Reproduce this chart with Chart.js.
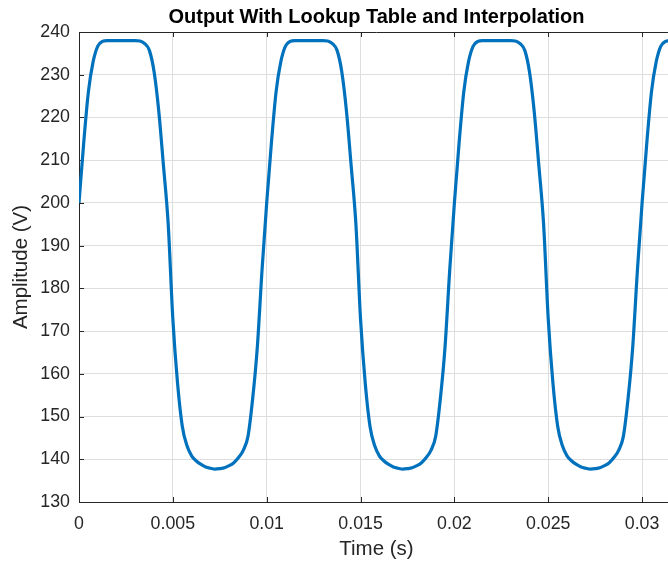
<!DOCTYPE html>
<html>
<head>
<meta charset="utf-8">
<script src="https://cdn.jsdelivr.net/npm/chart.js@4.4.1/dist/chart.umd.min.js"></script>
<style>
  html, body { margin: 0; padding: 0; overflow: hidden; background: #fff; }
  #wrap { width: 668px; height: 569px; overflow: hidden; }
</style>
</head>
<body>
<div id="wrap"><canvas id="chart" width="680" height="569"></canvas></div>
<script>
// sample times (s)
const timeSec = [
  0, 0.00025, 0.0005, 0.00075, 0.001, 0.00125, 0.0015, 0.00175, 0.002, 0.00225, 0.0025, 0.00275, 0.003, 0.00325, 0.0035, 0.00375, 0.004, 0.00425, 0.0045, 0.00475,
  0.005, 0.00525, 0.0055, 0.00575, 0.006, 0.00625, 0.0065, 0.00675, 0.007, 0.00725, 0.0075, 0.00775, 0.008, 0.00825, 0.0085, 0.00875, 0.009, 0.00925, 0.0095, 0.00975,
  0.01, 0.01025, 0.0105, 0.01075, 0.011, 0.01125, 0.0115, 0.01175, 0.012, 0.01225, 0.0125, 0.01275, 0.013, 0.01325, 0.0135, 0.01375, 0.014, 0.01425, 0.0145, 0.01475,
  0.015, 0.01525, 0.0155, 0.01575, 0.016, 0.01625, 0.0165, 0.01675, 0.017, 0.01725, 0.0175, 0.01775, 0.018, 0.01825, 0.0185, 0.01875, 0.019, 0.01925, 0.0195, 0.01975,
  0.02, 0.02025, 0.0205, 0.02075, 0.021, 0.02125, 0.0215, 0.02175, 0.022, 0.02225, 0.0225, 0.02275, 0.023, 0.02325, 0.0235, 0.02375, 0.024, 0.02425, 0.0245, 0.02475,
  0.025, 0.02525, 0.0255, 0.02575, 0.026, 0.02625, 0.0265, 0.02675, 0.027, 0.02725, 0.0275, 0.02775, 0.028, 0.02825, 0.0285, 0.02875, 0.029, 0.02925, 0.0295, 0.02975,
  0.03, 0.03025, 0.0305, 0.03075, 0.031, 0.03125, 0.0315, 0.03175, 0.032
];

// output amplitude (V)
const amplitudeV = [
  200, 214, 226, 233, 236.7, 237.8, 238, 238, 238, 238, 238, 238, 238, 237.9, 237.3, 235.7, 230.7, 221.5, 208.7, 195.2,
  172.8, 157.8, 147.8, 143.2, 140.8, 139.6, 138.8, 138.2, 137.9, 137.7, 137.8, 138.0, 138.5, 139.2, 140.4, 142.1, 145.3, 154.1, 166.2, 184.2,
  200, 214, 226, 233, 236.7, 237.8, 238, 238, 238, 238, 238, 238, 238, 237.9, 237.3, 235.7, 230.7, 221.5, 208.7, 195.2,
  172.8, 157.8, 147.8, 143.2, 140.8, 139.6, 138.8, 138.2, 137.9, 137.7, 137.8, 138.0, 138.5, 139.2, 140.4, 142.1, 145.3, 154.1, 166.2, 184.2,
  200, 214, 226, 233, 236.7, 237.8, 238, 238, 238, 238, 238, 238, 238, 237.9, 237.3, 235.7, 230.7, 221.5, 208.7, 195.2,
  172.8, 157.8, 147.8, 143.2, 140.8, 139.6, 138.8, 138.2, 137.9, 137.7, 137.8, 138.0, 138.5, 139.2, 140.4, 142.1, 145.3, 154.1, 166.2, 184.2,
  200, 214, 226, 233, 236.7, 237.8, 238, 238, 238
];

const xTicks = [0, 0.005, 0.01, 0.015, 0.02, 0.025, 0.03];
const xTickLabels = ['0', '0.005', '0.01', '0.015', '0.02', '0.025', '0.03'];
const yTicks = [130, 140, 150, 160, 170, 180, 190, 200, 210, 220, 230, 240];
const yTickLabels = ['130', '140', '150', '160', '170', '180', '190', '200', '210', '220', '230', '240'];

const FONT = "'Liberation Sans', Arial, Helvetica, sans-serif";
const AXIS_COLOR = '#262626';

// matlab style box: top edge plus inward tick marks
const boxTicks = {
  id: 'boxTicks',
  beforeDatasetsDraw(chart) {
    const {ctx, chartArea: a, scales: {x, y}} = chart;
    const len = 5;
    ctx.save();
    ctx.strokeStyle = AXIS_COLOR;
    ctx.lineWidth = 1;
    ctx.beginPath();
    ctx.moveTo(a.left, a.top + 0.5);
    ctx.lineTo(a.right, a.top + 0.5);
    ctx.moveTo(a.right - 0.5, a.top);
    ctx.lineTo(a.right - 0.5, a.bottom);
    x.ticks.forEach(t => {
      const px = Math.round(x.getPixelForValue(t.value)) + 0.5;
      ctx.moveTo(px, a.bottom);
      ctx.lineTo(px, a.bottom - len);
      ctx.moveTo(px, a.top);
      ctx.lineTo(px, a.top + len);
    });
    y.ticks.forEach(t => {
      const py = Math.round(y.getPixelForValue(t.value)) + 0.5;
      ctx.moveTo(a.left, py);
      ctx.lineTo(a.left + len, py);
    });
    ctx.stroke();
    ctx.restore();
  }
};

const data = {
  datasets: [{
    label: 'Output',
    data: timeSec.map((t, i) => ({x: t, y: amplitudeV[i]})),
    borderColor: '#0072BD',
    backgroundColor: '#0072BD',
    borderWidth: 3.2,
    pointRadius: 0,
    fill: false,
    cubicInterpolationMode: 'monotone'
  }]
};

const options = {
  responsive: false,
  animation: false,
  devicePixelRatio: 1,
  layout: { padding: { left: 0, right: 6, top: 0, bottom: 0 } },
  plugins: {
    legend: { display: false },
    tooltip: { enabled: false },
    title: {
      display: true,
      fullSize: false,
      text: 'Output With Lookup Table and Interpolation',
      color: '#000',
      font: { family: FONT, size: 20, weight: 'bold' },
      padding: { top: 5, bottom: 3 }
    }
  },
  scales: {
    x: {
      type: 'linear',
      min: 0,
      max: 0.0317,
      afterBuildTicks: s => { s.ticks = xTicks.map(v => ({value: v})); },
      afterFit: s => { s.height = 67; },
      ticks: {
        padding: 11.3,
        color: AXIS_COLOR,
        font: { family: FONT, size: 17.8 },
        maxRotation: 0,
        callback: (v, i) => xTickLabels[i]
      },
      grid: { color: '#dedede', drawTicks: false },
      border: { color: AXIS_COLOR, width: 1 },
      title: {
        display: true,
        text: 'Time (s)',
        color: AXIS_COLOR,
        font: { family: FONT, size: 20.5 },
        padding: { top: 0, bottom: 7.7 }
      }
    },
    y: {
      type: 'linear',
      min: 130,
      max: 240,
      afterBuildTicks: s => { s.ticks = yTicks.map(v => ({value: v})); },
      afterFit: s => { s.width = 79; },
      ticks: {
        padding: 9,
        color: AXIS_COLOR,
        font: { family: FONT, size: 17.8 },
        callback: (v, i) => yTickLabels[i]
      },
      grid: { color: '#dedede', drawTicks: false },
      border: { color: AXIS_COLOR, width: 1 },
      title: {
        display: true,
        text: 'Amplitude (V)',
        color: AXIS_COLOR,
        font: { family: FONT, size: 20.5 },
        padding: { top: 9.2, bottom: 0 }
      }
    }
  }
};

new Chart(document.getElementById('chart'), {
  type: 'line',
  data: data,
  options: options,
  plugins: [boxTicks]
});
</script>
</body>
</html>
